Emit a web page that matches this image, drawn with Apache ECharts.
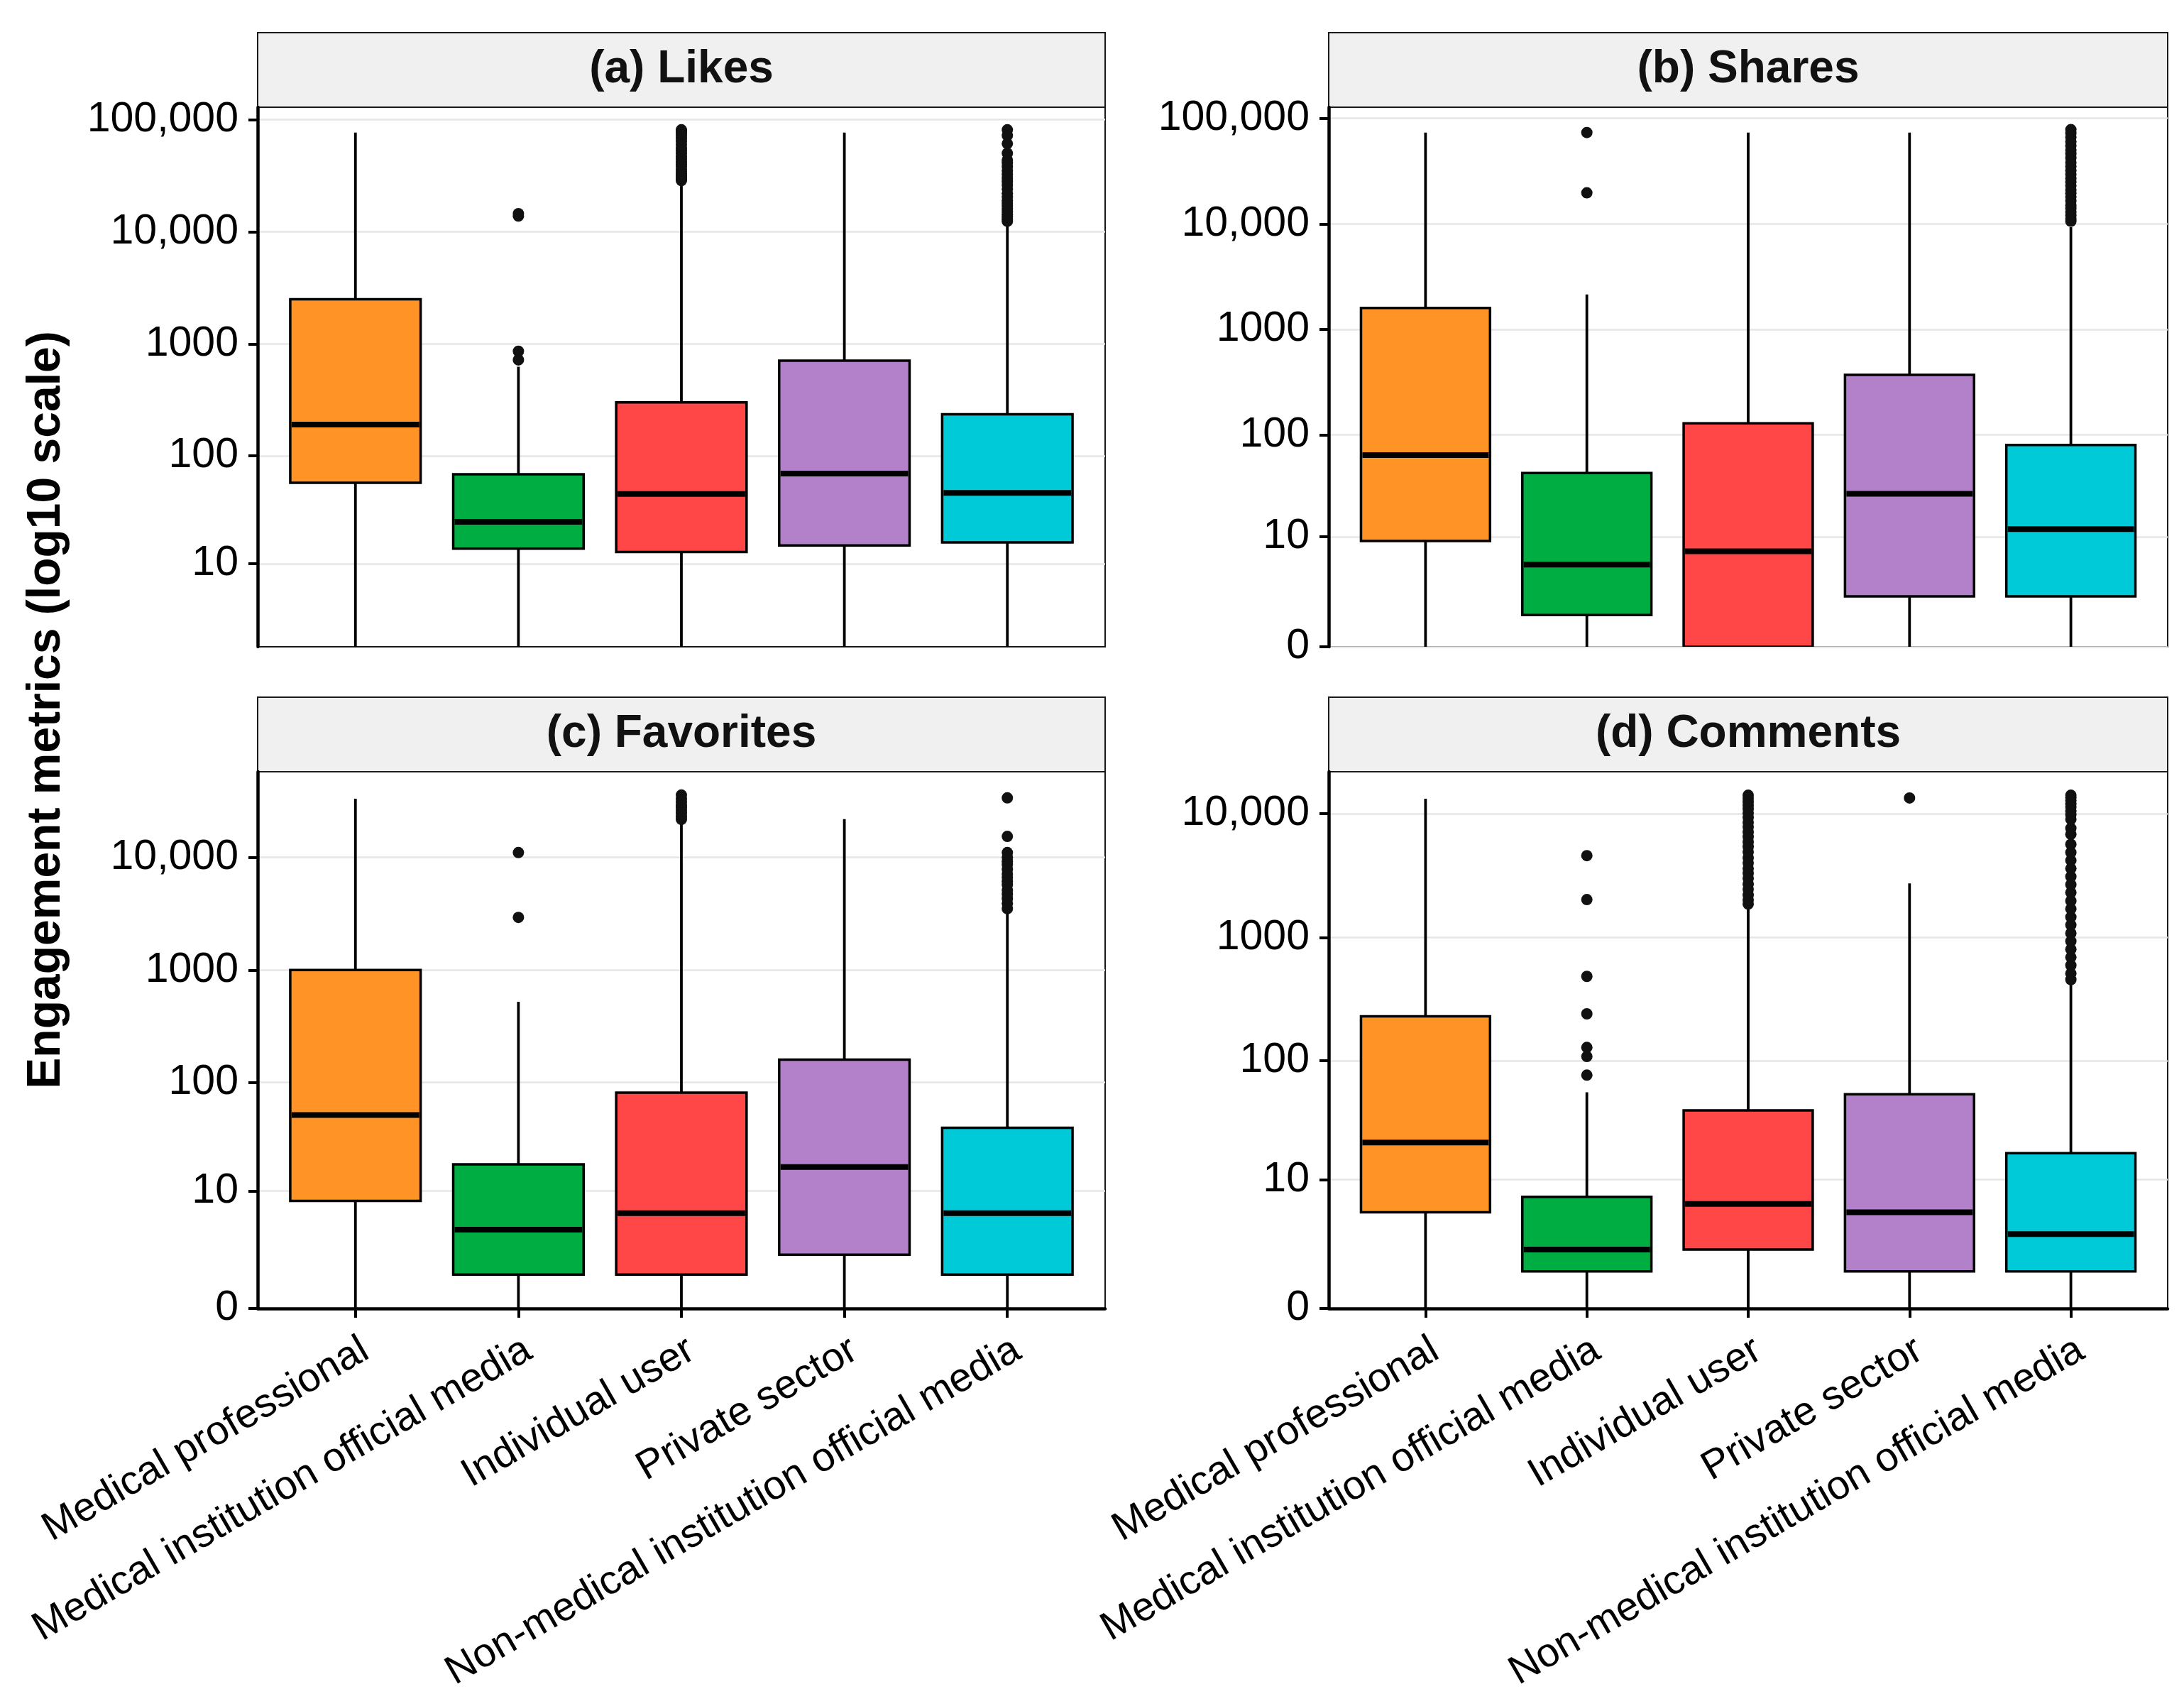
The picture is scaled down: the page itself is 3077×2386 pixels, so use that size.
<!DOCTYPE html>
<html>
<head>
<meta charset="utf-8">
<title>Engagement metrics by account type</title>
<script src="https://cdn.jsdelivr.net/npm/echarts@6/dist/echarts.min.js"></script>
<style>
  html, body { margin: 0; padding: 0; background: #fff; }
  #chart { width: 3077px; height: 2386px; }
</style>
</head>
<body>
<div id="chart"></div>
<script>
// ── Data (raw counts) ──────────────────────────────────────────────────────
const categories = [
  "Medical professional",
  "Medical institution official media",
  "Individual user",
  "Private sector",
  "Non-medical institution official media",
];
const categoryColors = ["#FF9326", "#00AD43", "#FF4747", "#B381C9", "#00C9D8"];

const panelTitles = ["(a) Likes", "(b) Shares", "(c) Favorites", "(d) Comments"];

// [min, Q1, median, Q3, max] per category (whisker ends, hinges)
const likesStats = [
  [1, 57, 190, 2500, 76600],
  [1, 14, 25, 68, 625],
  [1, 13, 45, 300, 27400],
  [1, 15, 69, 709, 76600],
  [1, 16, 46, 235, 11900],
];
const sharesStats = [
  [0, 9, 64, 1600, 73200],
  [0, 1, 5, 43, 2150],
  [0, 0, 7, 129, 73200],
  [0, 2, 27, 373, 73200],
  [0, 2, 12, 80, 9300],
];
const favoritesStats = [
  [0, 8, 51, 1000, 33000],
  [0, 1, 4, 18, 523],
  [0, 1, 6, 81, 20500],
  [0, 2, 17, 160, 21800],
  [0, 1, 6, 39, 3200],
];
const commentsStats = [
  [0, 5, 21, 229, 13200],
  [0, 1, 2, 7, 55],
  [0, 2, 6, 39, 1760],
  [0, 1, 5, 53, 2730],
  [0, 1, 3, 17, 439],
];

// outliers per category
const likesOutliers = [
  [],
  [720, 860, 13800, 14500],
  [28600, 29500, 30500, 31500, 33000, 34500, 36000, 38000, 40000, 42000, 44500,
   47000, 50000, 53000, 56000, 60000, 64000, 68000, 72000, 76000, 79000, 81000],
  [],
  [12400, 13000, 13600, 14200, 15000, 16000, 17000, 18000, 19000, 20500, 22000,
   24000, 26000, 28000, 30000, 32500, 35000, 38000, 41000, 43500, 50000, 61000,
   72000, 81000],
];
const sharesOutliers = [
  [],
  [19700, 73200],
  [],
  [],
  [10600, 11200, 12000, 13000, 14000, 15000, 16500, 18000, 19500, 21000, 23000,
   25000, 27000, 29500, 32000, 35000, 38000, 42000, 46000, 50000, 55000, 60000,
   66000, 72000, 78000],
];
const favoritesOutliers = [
  [],
  [2930, 11000],
  [21700, 23000, 24500, 26000, 27500, 29000, 31000, 33000, 35600],
  [],
  [3500, 3900, 4300, 4700, 5100, 5700, 6100, 6600, 7100, 7800, 8600, 9200,
   10000, 11000, 15300, 33600],
];
const commentsOutliers = [
  [],
  [76, 108, 128, 240, 483, 2020, 4580],
  [1860, 2000, 2200, 2450, 2700, 3000, 3300, 3600, 4000, 4400, 4900, 5400,
   5900, 6500, 7100, 7800, 8500, 9300, 10100, 10900, 11700, 12500, 13300, 14100],
  [13400],
  [455, 510, 593, 690, 800, 930, 1080, 1260, 1460, 1700, 1970, 2300, 2670,
   3100, 3600, 4190, 4860, 5650, 6810, 7630, 9000, 9800, 10500, 11300, 12000,
   12800, 13500, 14100],
];

// y tick labels (raw scale)
const tickValues = [0, 10, 100, 1000, 10000, 100000];
const tickLabels = ["0", "10", "100", "1000", "10,000", "100,000"];

// ── Layout ─────────────────────────────────────────────────────────────────
const FONT = "'Liberation Sans', Arial, sans-serif";
const STRIP_H = 105;
const BOX_W = 0.8;

const panels = [
  { stats: likesStats, outliers: likesOutliers, ticks: tickValues.slice(1),
    yMin: Math.log10(2), yMax: 5.11, left: 363, top: 151, width: 1194, height: 760, bottom: false },
  { stats: sharesStats, outliers: sharesOutliers, ticks: tickValues,
    yMin: 0, yMax: 5.104, left: 1872, top: 151, width: 1182, height: 760, bottom: false },
  { stats: favoritesStats, outliers: favoritesOutliers, ticks: tickValues.slice(0, 5),
    yMin: 0, yMax: 4.758, left: 363, top: 1087, width: 1194, height: 764, bottom: true },
  { stats: commentsStats, outliers: commentsOutliers, ticks: tickValues.slice(0, 5),
    yMin: 0, yMax: 4.339, left: 1872, top: 1087, width: 1182, height: 764, bottom: true },
];

// pseudo-log transform used by the figure: log10(x + 1)
const tf = (v) => Math.log10(v + 1);
const catPositions = categories.map((c, i) => i + 1);

// ── Box renderer ───────────────────────────────────────────────────────────
function renderBox(params, api) {
  const x = api.value(0);
  const pMin = api.coord([x, api.value(1)]);
  const pQ1 = api.coord([x, api.value(2)]);
  const pMed = api.coord([x, api.value(3)]);
  const pQ3 = api.coord([x, api.value(4)]);
  const pMax = api.coord([x, api.value(5)]);
  const halfW = api.size([BOX_W, 0])[0] / 2;
  const cx = pMed[0];
  const stroke = { stroke: "#000", lineWidth: 3.8 };
  return {
    type: "group",
    children: [
      { type: "line", shape: { x1: cx, y1: pQ1[1], x2: cx, y2: pMin[1] }, style: stroke },
      { type: "line", shape: { x1: cx, y1: pQ3[1], x2: cx, y2: pMax[1] }, style: stroke },
      {
        type: "rect",
        shape: { x: cx - halfW, y: pQ3[1], width: halfW * 2, height: pQ1[1] - pQ3[1] },
        style: { fill: categoryColors[params.dataIndex], stroke: "#000", lineWidth: 3.5 },
      },
      {
        type: "line",
        shape: { x1: cx - halfW + 2, y1: pMed[1], x2: cx + halfW - 2, y2: pMed[1] },
        style: { stroke: "#000", lineWidth: 8 },
      },
    ],
  };
}

// ── Option ─────────────────────────────────────────────────────────────────
const grid = panels.map((p) => ({
  left: p.left, top: p.top, width: p.width, height: p.height,
  show: true, backgroundColor: "#fff", borderColor: "#1a1a1a", borderWidth: 2,
}));

const xAxis = panels.map((p, i) => ({
  type: "value",
  gridIndex: i,
  min: 0.4,
  max: 5.6,
  splitLine: { show: false },
  axisLine: { show: p.bottom, onZero: false, lineStyle: { color: "#000", width: 4.5 } },
  axisTick: {
    show: p.bottom, customValues: catPositions, length: 13,
    lineStyle: { color: "#000", width: 4 },
  },
  axisLabel: {
    show: p.bottom,
    customValues: catPositions,
    formatter: (v) => categories[Math.round(v) - 1] || "",
    rotate: 30,
    align: "right",
    verticalAlign: "top",
    margin: 30,
    fontSize: 57,
    fontFamily: FONT,
    color: "#000",
  },
}));

const yAxis = panels.map((p, i) => ({
  type: "value",
  gridIndex: i,
  min: p.yMin,
  max: p.yMax,
  axisLine: { show: true, onZero: false, lineStyle: { color: "#000", width: 4.5 } },
  axisTick: {
    show: true, customValues: p.ticks.map(tf), length: 13,
    lineStyle: { color: "#000", width: 4 },
  },
  axisLabel: {
    customValues: p.ticks.map(tf),
    formatter: (v) => tickLabels[Math.round(v)],
    margin: 27,
    fontSize: 59,
    fontFamily: FONT,
    color: "#000",
  },
  splitLine: { show: true, lineStyle: { color: "#e6e6e6", width: 2.5 } },
}));

const series = [];
panels.forEach((p, i) => {
  series.push({
    type: "custom",
    xAxisIndex: i,
    yAxisIndex: i,
    clip: true,
    renderItem: renderBox,
    encode: { x: 0, y: [1, 2, 3, 4, 5] },
    data: p.stats.map((s, j) => [catPositions[j]].concat(s.map(tf))),
    z: 2,
  });
  const pts = [];
  p.outliers.forEach((list, j) => list.forEach((v) => pts.push([catPositions[j], tf(v)])));
  series.push({
    type: "scatter",
    xAxisIndex: i,
    yAxisIndex: i,
    symbol: "circle",
    symbolSize: 16,
    itemStyle: { color: "#111", opacity: 1 },
    data: pts,
    z: 3,
  });
});

const graphic = [];
panels.forEach((p, i) => {
  graphic.push({
    type: "rect",
    shape: { x: p.left, y: p.top - STRIP_H, width: p.width, height: STRIP_H },
    style: { fill: "#f0f0f0", stroke: "#1a1a1a", lineWidth: 2 },
  });
  graphic.push({
    type: "text",
    x: p.left + p.width / 2,
    y: p.top - STRIP_H / 2,
    style: {
      text: panelTitles[i], fontSize: 64, fontWeight: "bold", fontFamily: FONT,
      fill: "#111", align: "center", verticalAlign: "middle",
    },
  });
});
graphic.push({
  type: "text",
  x: 66,
  y: 1000,
  rotation: Math.PI / 2,
  style: {
    text: "Engagement metrics (log10 scale)", fontSize: 66, fontWeight: "bold",
    fontFamily: FONT, fill: "#000", align: "center", verticalAlign: "middle",
  },
});

const chart = echarts.init(document.getElementById("chart"), null, { renderer: "canvas" });
chart.setOption({
  backgroundColor: "#fff",
  animation: false,
  grid,
  xAxis,
  yAxis,
  series,
  graphic,
});
</script>
</body>
</html>
